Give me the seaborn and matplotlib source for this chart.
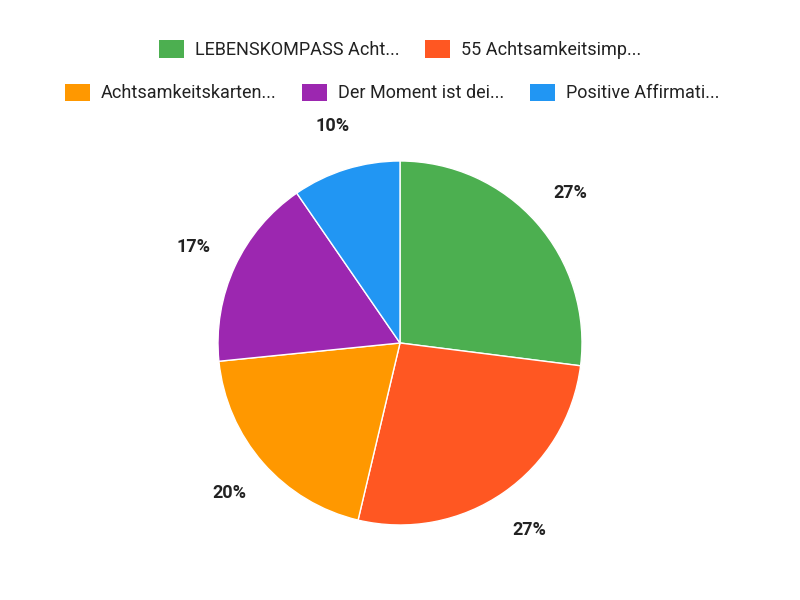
import matplotlib
matplotlib.use("Agg")
import matplotlib.pyplot as plt
import seaborn as sns
from matplotlib.patches import Patch

sns.set_theme(style="white")
plt.rcParams['font.family'] = ['Roboto', 'DejaVu Sans']

labels = ["LEBENSKOMPASS Acht...", "55 Achtsamkeitsimp...", "Achtsamkeitskarten...",
          "Der Moment ist dei...", "Positive Affirmati..."]
values = [27.0, 26.7, 19.7, 17.0, 9.6]
colors = ["#4caf50", "#ff5722", "#ff9800", "#9c27b0", "#2196f3"]

fig = plt.figure(figsize=(8, 6), dpi=100)
ax = fig.add_axes([0.2725, 0.125, 0.455, 0.6067])
wedges, texts, autotexts = ax.pie(values, colors=colors, startangle=90, counterclock=False,
                                  autopct=lambda p: f"{p:.0f}%", pctdistance=1.25,
                                  textprops=dict(fontsize=13, fontweight="bold", color="#222222"))
ax.set_xlim(-1, 1); ax.set_ylim(-1, 1)
ax.set_aspect("equal")

def mk(i):
    return Patch(facecolor=colors[i], edgecolor="none")

kw = dict(frameon=False, fontsize=13, handlelength=1.4, handleheight=1.1,
          handletextpad=0.6, columnspacing=1.4, labelcolor="#222222")
fig.legend([mk(0), mk(1)], labels[:2], loc="center", bbox_to_anchor=(0.5, 0.917), ncol=2, **kw)
fig.legend([mk(2), mk(3), mk(4)], labels[2:], loc="center", bbox_to_anchor=(0.49, 0.845), ncol=3, **kw)

fig.savefig("out.png", dpi=100)
